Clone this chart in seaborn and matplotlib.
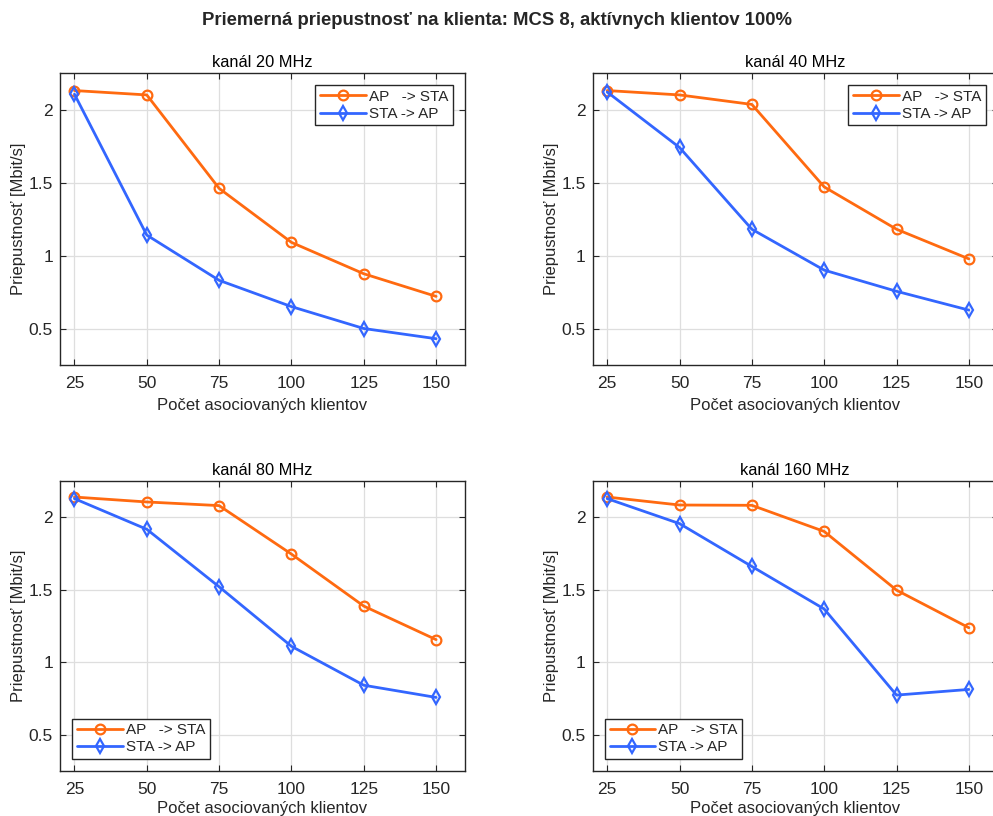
import matplotlib
matplotlib.use("Agg")
import matplotlib.pyplot as plt
import seaborn as sns
import pandas as pd

# Number of associated clients (x axis)
clients = [25, 50, 75, 100, 125, 150]

# Average per-client throughput [Mbit/s] for each channel width
ap_sta_20 = [2.13, 2.10, 1.46, 1.09, 0.875, 0.72]
sta_ap_20 = [2.105, 1.14, 0.83, 0.65, 0.50, 0.43]

ap_sta_40 = [2.13, 2.10, 2.035, 1.47, 1.18, 0.977]
sta_ap_40 = [2.12, 1.74, 1.18, 0.90, 0.755, 0.626]

ap_sta_80 = [2.137, 2.103, 2.078, 1.744, 1.386, 1.155]
sta_ap_80 = [2.126, 1.915, 1.519, 1.109, 0.841, 0.757]

ap_sta_160 = [2.137, 2.082, 2.08, 1.90, 1.496, 1.237]
sta_ap_160 = [2.126, 1.954, 1.659, 1.366, 0.773, 0.812]

panel_titles = ["kanál 20 MHz", "kanál 40 MHz", "kanál 80 MHz", "kanál 160 MHz"]
series_labels = ["AP   -> STA", "STA -> AP"]
y_ticks = [0.5, 1, 1.5, 2]
y_tick_labels = ["0.5", "1", "1.5", "2"]

suptitle = "Priemerná priepustnosť na klienta: MCS 8, aktívnych klientov 100%"
x_label = "Počet asociovaných klientov"
y_label = "Priepustnosť [Mbit/s]"

sns.set_theme(style="white")
plt.rcParams["font.family"] = ["Liberation Sans", "DejaVu Sans"]

ORANGE = "#FF6A10"
BLUE = "#3366FF"
AXC = "#262626"

fig = plt.figure(figsize=(9.93, 8.16), dpi=100)

panels = [
    (ap_sta_20, sta_ap_20, "upper right"),
    (ap_sta_40, sta_ap_40, "upper right"),
    (ap_sta_80, sta_ap_80, "lower left"),
    (ap_sta_160, sta_ap_160, "lower left"),
]
rects = [
    [0.0604, 0.5527, 0.4079, 0.3578],
    [0.5969, 0.5527, 0.4079, 0.3578],
    [0.0604, 0.0551, 0.4079, 0.3559],
    [0.5969, 0.0551, 0.4079, 0.3559],
]
xlabel_pads = [5, 5, 3, 3]

for (ap, sta, loc), rect, title, xpad in zip(panels, rects, panel_titles, xlabel_pads):
    ax = fig.add_axes(rect)
    df = pd.DataFrame({"x": clients + clients,
                       "y": ap + sta,
                       "s": [series_labels[0]] * len(ap) + [series_labels[1]] * len(sta)})
    for lab, col, mk in zip(series_labels, [ORANGE, BLUE], ["o", "d"]):
        sub = df[df["s"] == lab]
        sns.lineplot(data=sub, x="x", y="y", ax=ax, color=col, linewidth=2.0,
                     marker=mk, markersize=7 if mk == "o" else 7.5,
                     markerfacecolor="none", markeredgecolor=col,
                     markeredgewidth=1.6, label=lab, sort=False)
    ax.set_xlim(20, 160)
    ax.set_ylim(0.25, 2.25)
    ax.set_xticks(clients)
    ax.set_xticklabels([str(c) for c in clients])
    ax.set_yticks(y_ticks)
    ax.set_yticklabels(y_tick_labels)
    ax.grid(True, color="#DEDEDE", linewidth=0.9)
    ax.set_axisbelow(True)
    for sp in ax.spines.values():
        sp.set_visible(True)
        sp.set_color(AXC)
        sp.set_linewidth(1.0)
    ax.tick_params(direction="in", length=4, width=0.8, color=AXC,
                   top=True, right=True, bottom=True, left=True,
                   labelsize=12.5, labelcolor=AXC)
    ax.tick_params(axis="x", pad=8)
    ax.tick_params(axis="y", pad=5)
    ax.set_title(title, fontsize=11.8, color="black", pad=4)
    ax.set_xlabel(x_label, fontsize=12, color=AXC, labelpad=xpad)
    ax.set_ylabel(y_label, fontsize=12, color=AXC, labelpad=2)
    leg = ax.legend(loc=loc, fontsize=11, frameon=True, fancybox=False,
                    borderpad=0.3, labelspacing=0.2, handlelength=3.0,
                    handletextpad=0.2, borderaxespad=0.8)
    leg.get_frame().set_edgecolor(AXC)
    leg.get_frame().set_linewidth(1.0)
    leg.get_frame().set_alpha(1)

fig.text(0.5, 0.975, suptitle, ha="center", va="center", fontsize=13.3,
         fontweight="bold", family=["Liberation Sans", "DejaVu Sans"])

fig.savefig("out.png", dpi=100)
